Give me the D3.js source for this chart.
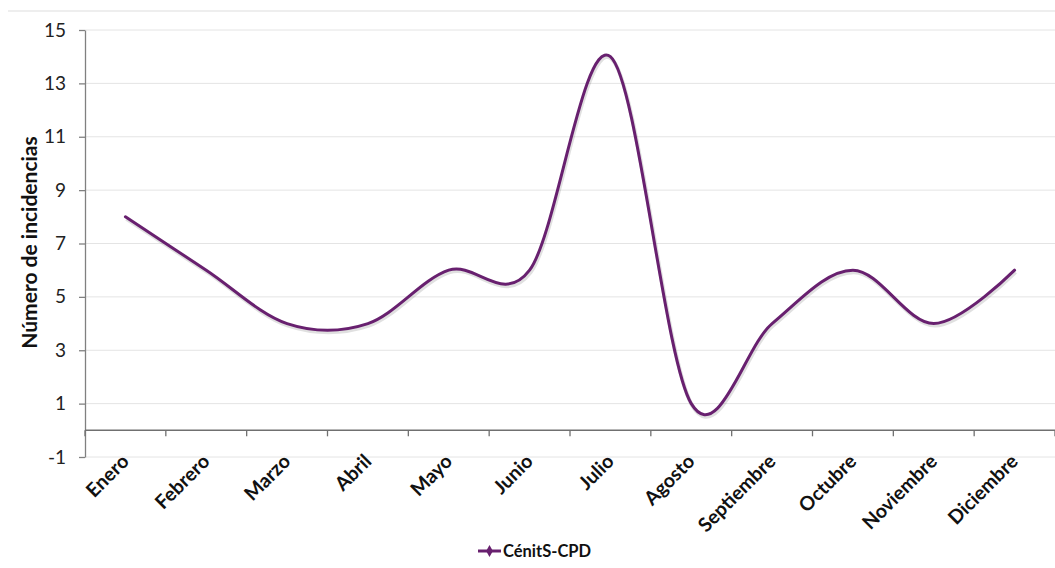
<!DOCTYPE html>
<html>
<head>
<meta charset="utf-8">
<script src="https://cdn.jsdelivr.net/npm/d3@7"></script>
<style>
  body { margin: 0; background: #fff; }
  svg { font-family: Lato, "Open Sans", sans-serif; }
</style>
</head>
<body>
<div id="chart"></div>
<script>
// monthly incidences
const months = ["Enero", "Febrero", "Marzo", "Abril", "Mayo", "Junio", "Julio",
                "Agosto", "Septiembre", "Octubre", "Noviembre", "Diciembre"];
const incidencias = [8, 6, 4, 4, 6, 6, 14, 1, 4, 6, 4, 6];
const yTicks = [-1, 1, 3, 5, 7, 9, 11, 13, 15];
const seriesName = "CénitS-CPD";

const W = 1055, H = 568;
const margin = {top: 30, right: 0, bottom: 111, left: 85};
const width = W - margin.left - margin.right,
      height = H - margin.top - margin.bottom;
const lineColor = "#68206f";

const svg = d3.select("#chart").append("svg")
  .attr("width", W)
  .attr("height", H);

// chart area top border
svg.append("line")
  .attr("x1", 8).attr("x2", W)
  .attr("y1", 11).attr("y2", 11)
  .attr("stroke", "#eeeeee").attr("stroke-width", 2);

const g = svg.append("g")
  .attr("transform", `translate(${margin.left},${margin.top})`);

const x = d3.scaleBand().domain(months).range([0, width]);
const y = d3.scaleLinear().domain([-1, 15]).range([height, 0]);

// gridlines
g.selectAll(".grid")
  .data(yTicks)
  .enter().append("line")
  .attr("class", "grid")
  .attr("x1", 0).attr("x2", width)
  .attr("y1", d => y(d)).attr("y2", d => y(d))
  .attr("stroke", "#e4e4e4").attr("stroke-width", 1);

// y axis
const yAxis = g.append("g")
  .call(d3.axisLeft(y).tickValues(yTicks).tickFormat(d => String(d))
    .tickSize(6).tickPadding(13).tickSizeOuter(0));
yAxis.select(".domain").attr("stroke", "#808080").attr("stroke-width", 1.3);
yAxis.selectAll(".tick line").attr("stroke", "#808080").attr("stroke-width", 1.3);
yAxis.selectAll("text")
  .attr("font-size", 19).attr("fill", "#222").attr("font-family", "Lato, sans-serif");

// y axis title
svg.append("text")
  .attr("transform", `translate(37,${margin.top + y(7) - 1}) rotate(-90)`)
  .attr("text-anchor", "middle")
  .attr("font-size", 21).attr("font-weight", "bold").attr("fill", "#111")
  .text("Número de incidencias");

// x axis at zero, ticks on band boundaries
const xAxisG = g.append("g").attr("transform", `translate(0,${y(0)})`);
xAxisG.append("line")
  .attr("x1", 0).attr("x2", width)
  .attr("stroke", "#707070").attr("stroke-width", 1.5);
xAxisG.selectAll(".xt")
  .data(months.concat(["_end"]))
  .enter().append("line")
  .attr("x1", (d, i) => i * x.step()).attr("x2", (d, i) => i * x.step())
  .attr("y1", 0).attr("y2", 6)
  .attr("stroke", "#707070").attr("stroke-width", 1.3);

// month labels
g.selectAll(".mlabel")
  .data(months)
  .enter().append("text")
  .attr("class", "mlabel")
  .attr("transform", d => `translate(${x(d) + x.bandwidth() / 2 - 5},${height - 4}) rotate(-45)`)
  .attr("text-anchor", "end")
  .attr("dy", "0.7em")
  .attr("font-size", 19.5).attr("font-weight", "bold").attr("fill", "#111")
  .text(d => d);

// smoothed line
const line = d3.line()
  .x((d, i) => x(months[i]) + x.bandwidth() / 2)
  .y(d => y(d))
  .curve(d3.curveCardinal.tension(0));

g.append("path")
  .datum(incidencias)
  .attr("fill", "none")
  .attr("stroke", "#000")
  .attr("stroke-opacity", 0.12)
  .attr("stroke-width", 4)
  .attr("transform", "translate(1,2)")
  .attr("d", line);

g.append("path")
  .datum(incidencias)
  .attr("fill", "none")
  .attr("stroke", lineColor)
  .attr("stroke-width", 3)
  .attr("stroke-linecap", "round")
  .attr("d", line);

// legend
const lg = svg.append("g").attr("transform", "translate(478,551)");
lg.append("line")
  .attr("x1", 0).attr("x2", 23)
  .attr("stroke", lineColor).attr("stroke-width", 3);
lg.append("path")
  .attr("d", d3.symbol().type(d3.symbolDiamond).size(40))
  .attr("transform", "translate(11.5,0)")
  .attr("fill", lineColor);
lg.append("text")
  .attr("x", 25).attr("dy", "0.35em")
  .attr("font-size", 16.5).attr("font-weight", "bold").attr("fill", "#111")
  .text(seriesName);
</script>
</body>
</html>
